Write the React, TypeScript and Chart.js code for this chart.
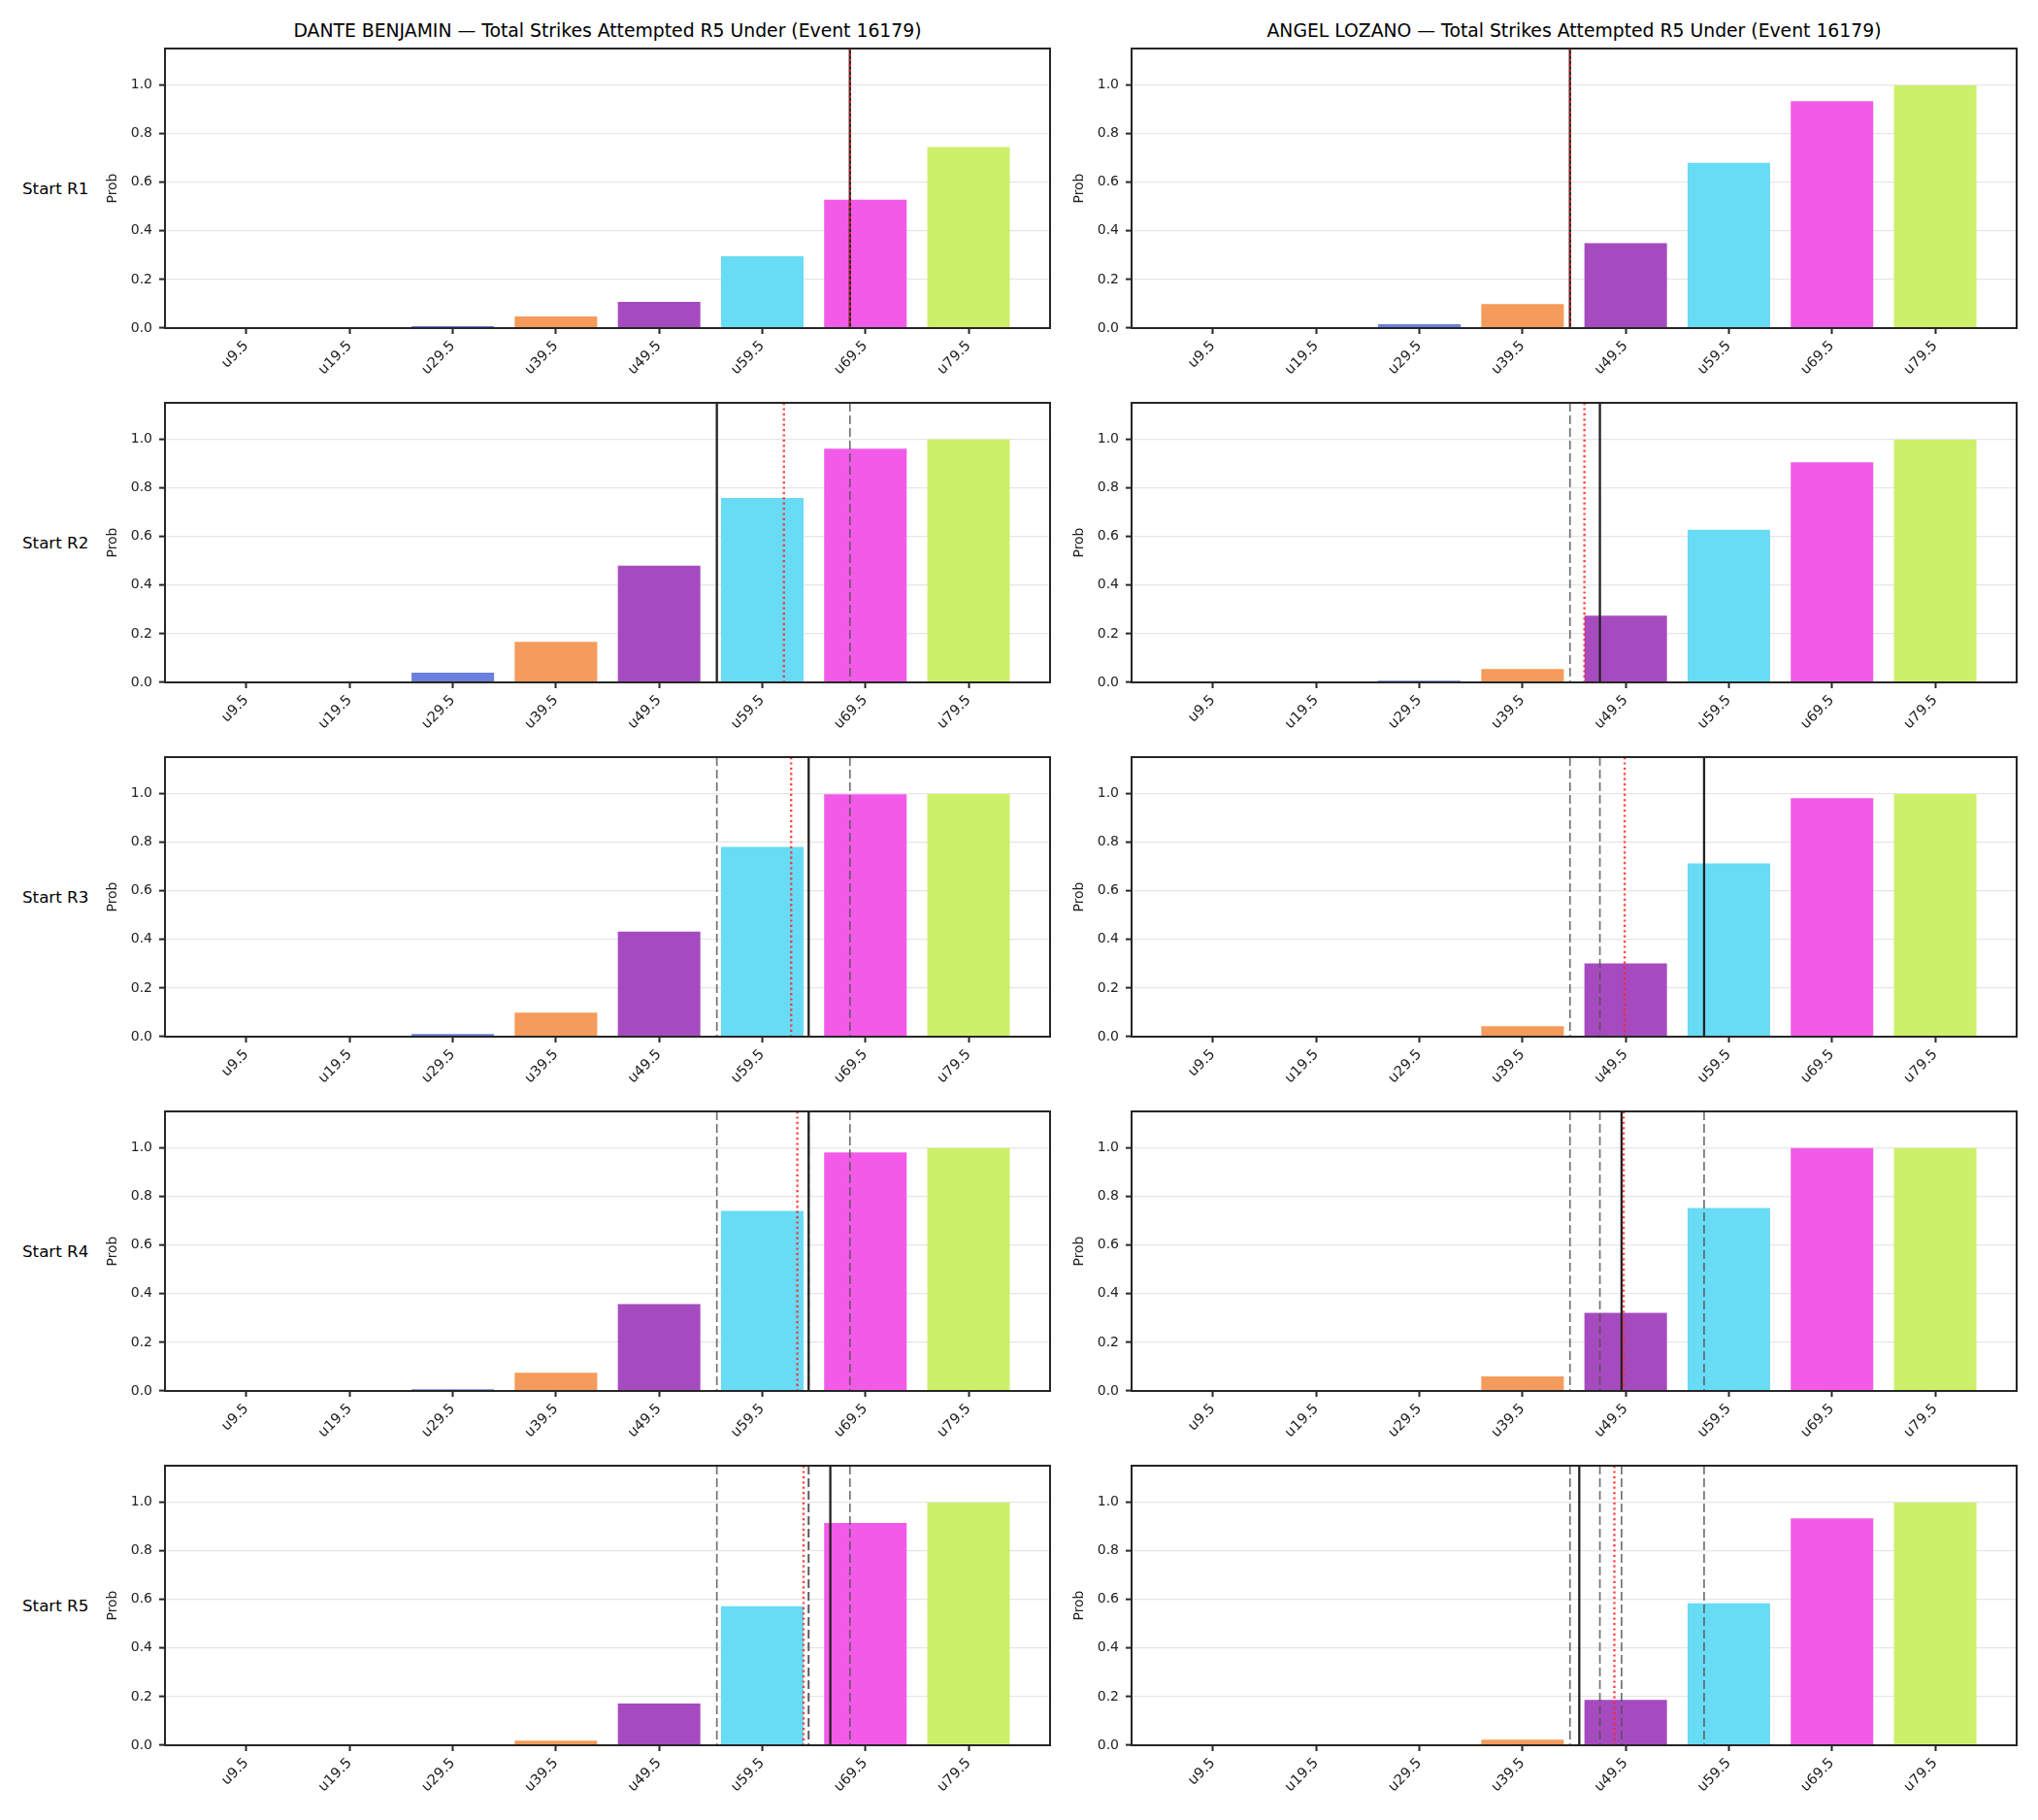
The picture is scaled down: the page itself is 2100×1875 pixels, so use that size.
import React, { useEffect, useRef } from 'react';
import { Chart, registerables } from 'chart.js';

Chart.register(...registerables);

const FONT = "'DejaVu Sans', 'Liberation Sans', sans-serif";

// Categories (under lines)
const categories = ['u9.5', 'u19.5', 'u29.5', 'u39.5', 'u49.5', 'u59.5', 'u69.5', 'u79.5'];
const categoryThresholds = [9.5, 19.5, 29.5, 39.5, 49.5, 59.5, 69.5, 79.5];
const barColors = ['#e8625f', '#5cc46a', '#6a80dc', '#f59b5b', '#a64bbf', '#68dbf5', '#f25be8', '#cdf06a'];
const yTicks = [0, 0.2, 0.4, 0.6, 0.8, 1.0];
const fighters = ['DANTE BENJAMIN', 'ANGEL LOZANO'];
const roundLabels = ['Start R1', 'Start R2', 'Start R3', 'Start R4', 'Start R5'];
const titleSuffix = ' — Total Strikes Attempted R5 Under (Event 16179)';

// DANTE BENJAMIN probabilities per starting round
const danteR1 = [0, 0, 0.008, 0.048, 0.108, 0.295, 0.528, 0.745];
const danteR2 = [0, 0, 0.040, 0.167, 0.480, 0.759, 0.961, 0.999];
const danteR3 = [0, 0, 0.011, 0.099, 0.432, 0.781, 0.997, 0.998];
const danteR4 = [0, 0, 0.007, 0.075, 0.357, 0.741, 0.981, 0.999];
const danteR5 = [0, 0, 0.001, 0.019, 0.172, 0.572, 0.914, 0.998];

// ANGEL LOZANO probabilities per starting round
const angelR1 = [0, 0, 0.016, 0.099, 0.349, 0.680, 0.933, 0.998];
const angelR2 = [0, 0, 0.007, 0.055, 0.275, 0.628, 0.905, 0.998];
const angelR3 = [0, 0, 0.001, 0.043, 0.301, 0.713, 0.981, 0.998];
const angelR4 = [0, 0, 0.003, 0.060, 0.321, 0.753, 0.999, 0.999];
const angelR5 = [0, 0, 0.001, 0.023, 0.187, 0.584, 0.933, 0.998];

// Reference lines (in strikes): solid = projected line, dotted = mean
const danteLine = [68.0, 55.1, 64.0, 64.0, 66.1];
const danteMean = [68.0, 61.6, 62.3, 62.9, 63.5];
const angelLine = [44.1, 47.0, 57.1, 49.1, 45.0];
const angelMean = [44.1, 45.5, 49.4, 49.3, 48.4];

const danteProbs = [danteR1, danteR2, danteR3, danteR4, danteR5];
const angelProbs = [angelR1, angelR2, angelR3, angelR4, angelR5];

// map strikes to category-axis position (categories are 10 strikes apart)
const toIndex = (v: number) =>
  (v - categoryThresholds[0]) / (categoryThresholds[1] - categoryThresholds[0]);

// layout
const AX_LEFT = [170, 1166];
const AX_W = 912;
const AX_H = 288;
const ROW_TOP0 = 50;
const ROW_STEP = 365;
const Y_W = 62;
const X_H = 70;
const PAD_T = 20;
const PAD_R = 12;

type PanelProps = {
  probs: number[];
  line: number;
  mean: number;
  prev: number[];
  axLeft: number;
  axTop: number;
};

function Panel({ probs, line, mean, prev, axLeft, axTop }: PanelProps) {
  const ref = useRef<HTMLCanvasElement>(null);
  useEffect(() => {
    if (!ref.current) return;
    const refLines = {
      id: 'refLines',
      afterDatasetsDraw(chart: any) {
        const { ctx, chartArea: a } = chart;
        const x = chart.scales.x;
        const vline = (v: number, color: string, width: number, dash: number[]) => {
          const px = x.getPixelForValue(toIndex(v));
          ctx.save();
          ctx.beginPath();
          ctx.strokeStyle = color;
          ctx.lineWidth = width;
          ctx.setLineDash(dash);
          ctx.moveTo(px, a.top);
          ctx.lineTo(px, a.bottom);
          ctx.stroke();
          ctx.restore();
        };
        prev.forEach((v) => vline(v, 'rgba(80,80,80,0.8)', 1.7, [9, 4]));
        vline(line, '#222222', 2.3, []);
        vline(mean, 'rgba(255,35,35,0.85)', 2.4, [2.2, 3.2]);
      },
      afterDraw(chart: any) {
        const { ctx, chartArea: a } = chart;
        ctx.save();
        ctx.strokeStyle = '#262626';
        ctx.lineWidth = 2;
        ctx.strokeRect(a.left, a.top, a.right - a.left, a.bottom - a.top);
        ctx.restore();
      },
    };
    const chart = new Chart(ref.current, {
      type: 'bar',
      data: {
        datasets: [
          {
            data: probs.map((p, i) => ({ x: i, y: p })),
            backgroundColor: barColors,
            borderWidth: 0,
            barPercentage: 0.8,
            categoryPercentage: 1.0,
          },
        ],
      },
      options: {
        animation: false,
        responsive: false,
        maintainAspectRatio: false,
        layout: { padding: { left: 0, top: PAD_T, right: PAD_R, bottom: 0 } },
        plugins: { legend: { display: false }, tooltip: { enabled: false }, title: { display: false } },
        scales: {
          x: {
            type: 'linear',
            min: -0.79,
            max: 7.79,
            offset: false,
            afterBuildTicks: (s: any) => {
              s.ticks = categories.map((_, i) => ({ value: i }));
            },
            afterFit: (s: any) => {
              s.height = X_H;
            },
            border: { display: false },
            grid: {
              display: true,
              offset: false,
              drawOnChartArea: false,
              drawTicks: true,
              tickLength: 6,
              tickColor: '#262626',
              tickWidth: 2,
            },
            ticks: {
              autoSkip: false,
              minRotation: 45,
              maxRotation: 45,
              padding: 4,
              color: '#222',
              font: { family: FONT, size: 14.5 },
              callback: (_v: any, i: number) => categories[i],
            },
          },
          y: {
            type: 'linear',
            min: 0,
            max: 1.15,
            afterBuildTicks: (s: any) => {
              s.ticks = yTicks.map((v) => ({ value: v }));
            },
            afterFit: (s: any) => {
              s.width = Y_W;
            },
            border: { display: false },
            grid: {
              color: '#e6e6e6',
              lineWidth: 1.2,
              drawTicks: true,
              tickLength: 6,
              tickColor: '#262626',
              tickWidth: 2,
            },
            ticks: {
              autoSkip: false,
              padding: 7,
              color: '#222',
              font: { family: FONT, size: 14 },
              callback: (v: any) => Number(v).toFixed(1),
            },
            title: {
              display: true,
              text: 'Prob',
              color: '#222',
              padding: 0,
              font: { family: FONT, size: 13.9 },
            },
          },
        },
      },
      plugins: [refLines],
    } as any);
    return () => chart.destroy();
  }, [probs, line, mean, prev]);

  const w = Y_W + AX_W + PAD_R;
  const h = PAD_T + AX_H + X_H;
  return (
    <canvas
      ref={ref}
      width={w}
      height={h}
      style={{ position: 'absolute', left: axLeft - Y_W, top: axTop - PAD_T, width: w, height: h }}
    />
  );
}

export default function App() {
  const sets = [
    { probs: danteProbs, line: danteLine, mean: danteMean },
    { probs: angelProbs, line: angelLine, mean: angelMean },
  ];
  return (
    <div
      style={{
        position: 'absolute',
        left: 0,
        top: 0,
        width: 2100,
        height: 1875,
        background: '#ffffff',
        fontFamily: FONT,
        color: '#000',
      }}
    >
      {fighters.map((f, c) => (
        <div
          key={'t' + c}
          style={{
            position: 'absolute',
            left: AX_LEFT[c],
            width: AX_W,
            top: 21,
            lineHeight: '22px',
            fontSize: 18.8,
            textAlign: 'center',
            whiteSpace: 'nowrap',
          }}
        >
          {f + titleSuffix}
        </div>
      ))}
      {roundLabels.map((r, i) => (
        <div
          key={'r' + i}
          style={{
            position: 'absolute',
            left: 23,
            top: ROW_TOP0 + i * ROW_STEP + AX_H / 2 - 10,
            lineHeight: '20px',
            fontSize: 16.7,
            whiteSpace: 'nowrap',
          }}
        >
          {r}
        </div>
      ))}
      {roundLabels.map((_, i) =>
        sets.map((s, c) => (
          <Panel
            key={i + '-' + c}
            probs={s.probs[i]}
            line={s.line[i]}
            mean={s.mean[i]}
            prev={s.line.slice(0, i)}
            axLeft={AX_LEFT[c]}
            axTop={ROW_TOP0 + i * ROW_STEP}
          />
        ))
      )}
    </div>
  );
}
